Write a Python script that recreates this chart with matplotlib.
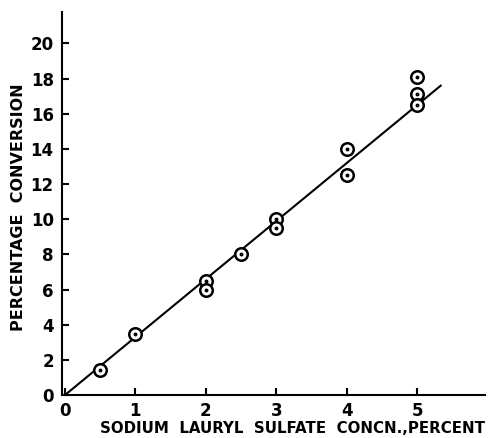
import matplotlib
matplotlib.use("Agg")
import matplotlib.pyplot as plt
import numpy as np

# concentration (percent) vs percentage conversion
conc = [0.5, 1.0, 2.0, 2.0, 2.5, 3.0, 3.0, 4.0, 4.0, 5.0, 5.0, 5.0]
conversion = [1.4, 3.5, 6.5, 6.0, 8.0, 10.0, 9.5, 14.0, 12.5, 18.1, 17.1, 16.5]
fit_x = [0.0, 5.33]
fit_y = [0.0, 17.6]
xticks = [0, 1, 2, 3, 4, 5]
yticks = [0, 2, 4, 6, 8, 10, 12, 14, 16, 18, 20]

plt.rcParams["font.family"] = "DejaVu Sans"

fig = plt.figure(figsize=(4.93, 4.38), dpi=100)
ax = fig.add_axes([0.126, 0.098, 0.858, 0.875])

ax.plot(fit_x, fit_y, color="black", lw=1.5, zorder=2)
ax.plot(conc, conversion, "o", ms=9, mfc="white", mec="black", mew=1.8, zorder=3)
ax.plot(conc, conversion, "o", ms=1.8, color="black", zorder=4)

ax.set_xlim(-0.04, 5.96)
ax.set_ylim(0, 21.8)
ax.set_xticks(xticks)
ax.set_yticks(yticks)
ax.spines["top"].set_visible(False)
ax.spines["right"].set_visible(False)
for s in ["left", "bottom"]:
    ax.spines[s].set_linewidth(1.5)
ax.tick_params(direction="in", length=5, width=1.5, labelsize=12)
ax.tick_params(axis="x", pad=5)
ax.tick_params(axis="y", pad=6)
for lab in ax.get_xticklabels() + ax.get_yticklabels():
    lab.set_fontweight("semibold")

ax.set_xlabel("SODIUM  LAURYL  SULFATE  CONCN.,PERCENT", fontsize=10.8,
              fontweight="semibold")
ax.xaxis.set_label_coords(0.545, -0.068)
ax.set_ylabel("PERCENTAGE  CONVERSION", fontsize=11.5, fontweight="semibold")
ax.yaxis.set_label_coords(-0.085, 0.49)

fig.savefig("out.png", dpi=100)
